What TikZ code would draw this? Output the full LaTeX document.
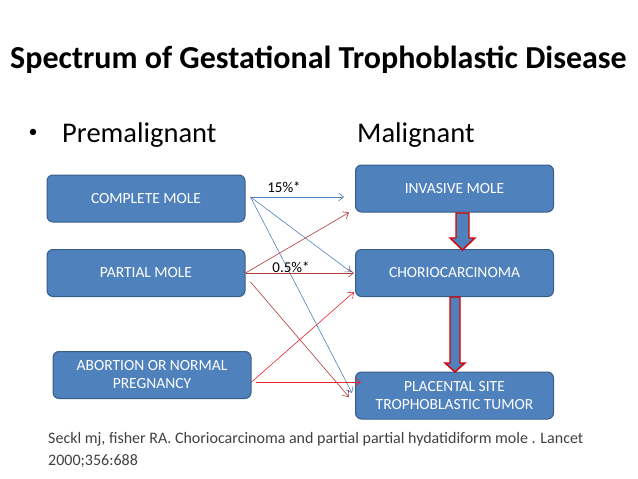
\documentclass[tikz,border=0pt]{standalone}
\usepackage{fontspec}
\setmainfont{Carlito}
\usetikzlibrary{arrows.meta}

\definecolor{boxblue}{HTML}{4F81BD}
\definecolor{boxedge}{HTML}{385D8A}
\definecolor{linkblue}{HTML}{4F81BD}
\definecolor{linkbrown}{HTML}{B03A36}
\definecolor{linkred}{HTML}{E3242B}
\definecolor{citegray}{HTML}{404040}

\begin{document}
\begin{tikzpicture}[x=1pt,y=-1pt,
    gtd/.style={rectangle,rounded corners=6pt,fill=boxblue,draw=boxedge,line width=1pt,
      text=white,font=\fontsize{15.5}{17}\selectfont,minimum width=198pt,minimum height=47pt,
      align=center,inner sep=0pt},
    link/.style={-{Straight Barb[length=5pt,width=8pt]},line width=0.6pt},
    blockarrow/.style={fill=boxblue,draw=red!85!black,line width=1.4pt,line join=miter}]
  \useasboundingbox (0,0) rectangle (638,479);

  \node[font=\fontsize{32}{36}\selectfont\bfseries] (title) at (318.5,60) {Spectrum of Gestational Trophoblastic Disease};
  \node[font=\fontsize{18}{20}\selectfont] (bullet) at (33,133) {•};
  \node[anchor=base west,font=\fontsize{28.5}{32}\selectfont,inner sep=0pt] (premal) at (62,142) {Premalignant};
  \node[anchor=base west,font=\fontsize{28.5}{32}\selectfont,inner sep=0pt] (mal) at (357,142) {Malignant};

  \node[gtd] (cm) at (146,198.5) {COMPLETE MOLE};
  \node[gtd] (pm) at (146,273) {PARTIAL MOLE};
  \node[gtd] (ab) at (152,375) {ABORTION OR NORMAL\\[1pt]PREGNANCY};
  \node[gtd] (im) at (454.5,188.5) {INVASIVE MOLE};
  \node[gtd] (ch) at (454.5,273) {CHORIOCARCINOMA};
  \node[gtd] (pl) at (454.5,395.5) {PLACENTAL SITE\\[1pt]TROPHOBLASTIC TUMOR};

  \draw[blockarrow] (456,213) -- (469,213) -- (469,238) -- (475,238) -- (462.5,250)
    -- (450,238) -- (456,238) -- cycle;
  \draw[blockarrow] (450,297) -- (460,297) -- (460,363) -- (465,363) -- (455,372)
    -- (445,363) -- (450,363) -- cycle;

  \draw[link,linkblue] ([xshift=5pt,yshift=1.5pt]cm.east) -- ([xshift=-11pt,yshift=-8.5pt]im.west);
  \draw[link,linkblue] ([xshift=5pt,yshift=1.5pt]cm.east) -- ([xshift=-4pt,yshift=1pt]ch.west);
  \draw[link,linkblue] ([xshift=5pt,yshift=1.5pt]cm.east) -- ([xshift=-3pt,yshift=2.5pt]pl.west);
  \draw[link,linkbrown] (pm.east) -- ([xshift=-6pt]im.south west);
  \draw[link,linkbrown] (pm.east) -- ([xshift=-1pt]ch.west);
  \draw[link,linkbrown] ([xshift=5pt,yshift=-9pt]pm.east) -- ([xshift=-6pt,yshift=-1.5pt]pl.west);
  \draw[link,linkred] ([yshift=-7pt]ab.east) -- ([xshift=-1pt,yshift=-19pt]ch.west);
  \draw[link,linkred] ([xshift=4pt,yshift=-7pt]ab.east) -- ([xshift=6pt,yshift=13.5pt]pl.west);

  \node[font=\fontsize{15}{17}\selectfont] (p15) at (284,187) {15\%*};
  \node[font=\fontsize{15}{17}\selectfont] (p05) at (291,267) {0.5\%*};

  \node[anchor=base west,inner sep=0pt,text=citegray,font=\fontsize{16}{20}\selectfont] (cite) at (48,443)
    {Seckl mj, fisher RA. Choriocarcinoma and partial partial hydatidiform mole . Lancet};
  \node[anchor=base west,inner sep=0pt,text=citegray,font=\fontsize{16}{20}\selectfont] (year) at (48,465)
    {2000;356:688};
\end{tikzpicture}
\end{document}
